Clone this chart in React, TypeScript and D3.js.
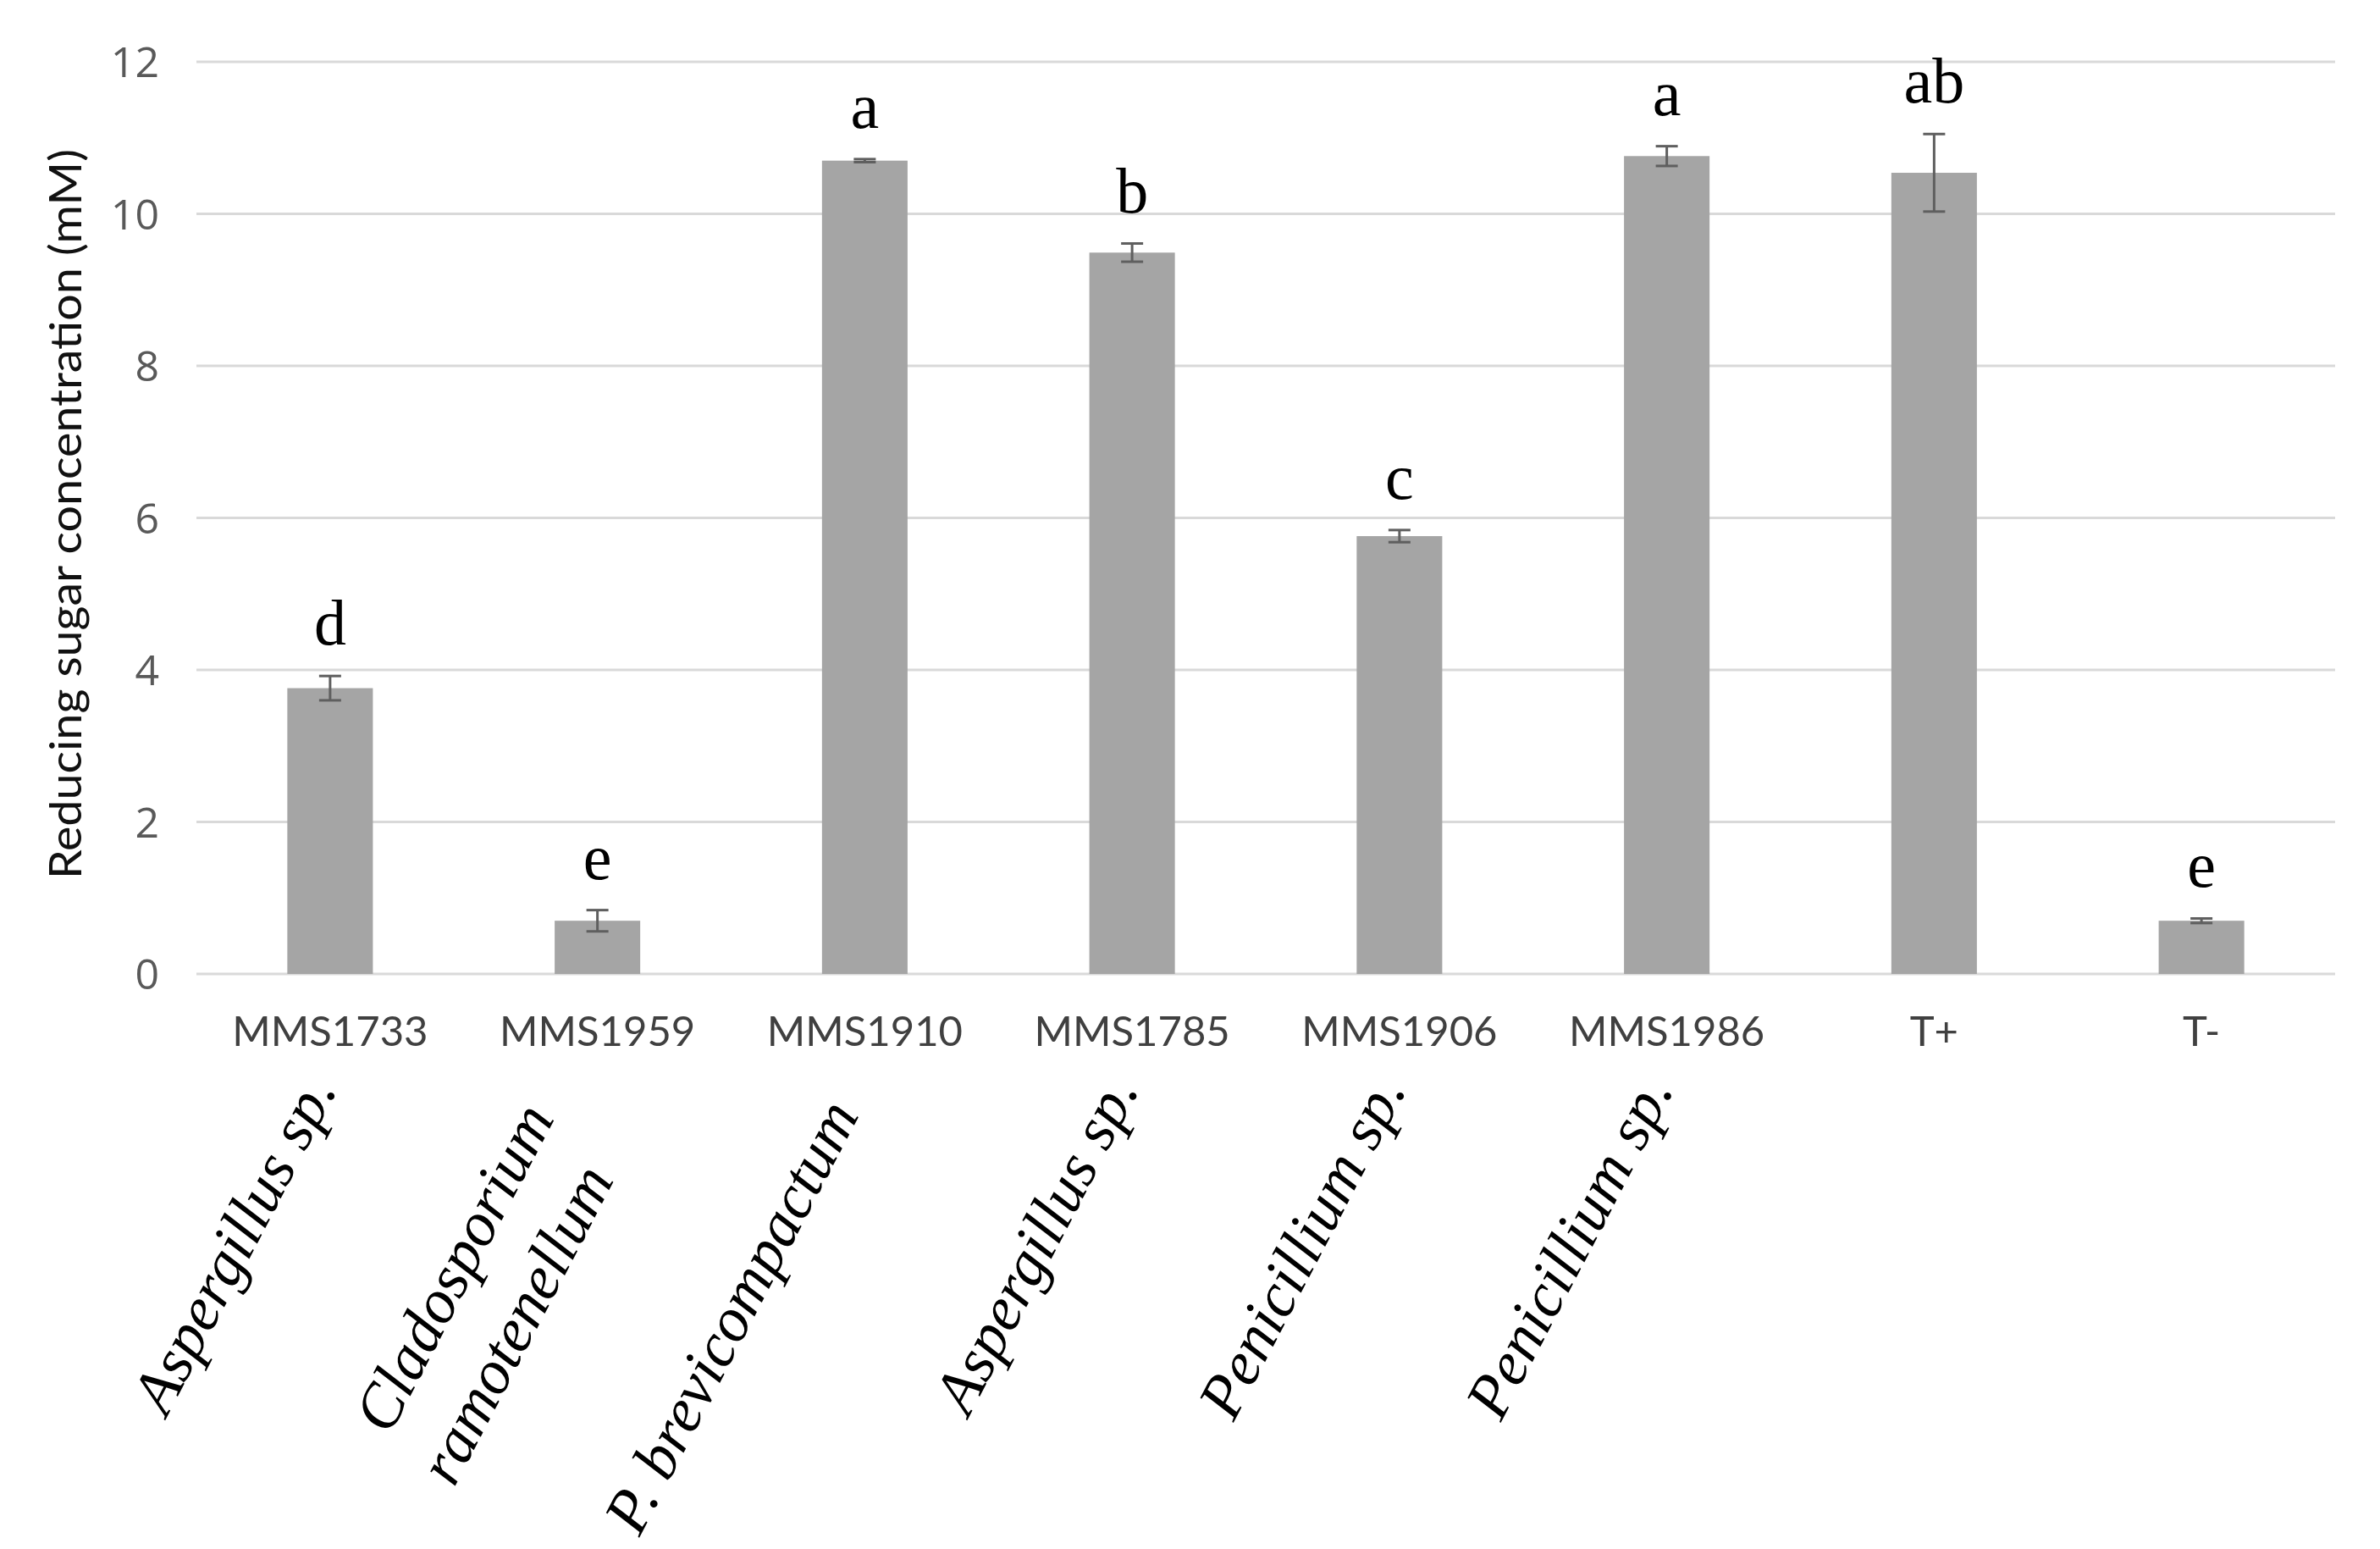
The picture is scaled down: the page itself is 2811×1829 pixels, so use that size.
import React from "react";
import * as d3 from "d3";

const categories = ["MMS1733", "MMS1959", "MMS1910", "MMS1785", "MMS1906", "MMS1986", "T+", "T-"];
const values = [3.76, 0.70, 10.70, 9.49, 5.76, 10.76, 10.54, 0.70];
const errors = [0.16, 0.14, 0.02, 0.12, 0.08, 0.13, 0.51, 0.03];
const letters = ["d", "e", "a", "b", "c", "a", "ab", "e"];
const species: string[][] = [
  ["Aspergillus sp."],
  ["Cladosporium", "ramotenellum"],
  ["P. brevicompactum"],
  ["Aspergillus sp."],
  ["Penicillium sp."],
  ["Penicillium sp."],
  [],
  [],
];
const yTicks = [0, 2, 4, 6, 8, 10, 12];
const yTitle = "Reducing sugar concentration (mM)";

// layout (not data)
const W = 2811;
const H = 1829;
const plot = { left: 232, right: 2758, top: 73, bottom: 1150 };
const speciesShift = [
  [9, 0],
  [-50, 34],
  [-6, 30],
  [9, 0],
  [9, 0],
  [9, 0],
  [0, 0],
  [0, 0],
];
const speciesBaseY = 1286;

export default function App() {
  const x = d3
    .scaleBand<string>()
    .domain(categories)
    .range([plot.left, plot.right])
    .paddingInner(0.68)
    .paddingOuter(0.34);
  const y = d3.scaleLinear().domain([0, 12]).range([plot.bottom, plot.top]);
  const bw = x.bandwidth();
  const cx = (c: string) => (x(c) as number) + bw / 2;
  const band = x.step();
  const centerOf = (i: number) => plot.left + band * (i + 0.5);

  return (
    <svg
      width={W}
      height={H}
      style={{ position: "absolute", left: 0, top: 0, background: "#fff" }}
    >
      <rect x={0} y={0} width={W} height={H} fill="#ffffff" />
      {/* gridlines */}
      {yTicks.map((t) => (
        <line
          key={"g" + t}
          x1={plot.left}
          x2={plot.right}
          y1={y(t)}
          y2={y(t)}
          stroke="#d9d9d9"
          strokeWidth={3}
        />
      ))}
      {/* y tick labels */}
      {yTicks.map((t) => (
        <text
          key={"t" + t}
          x={188}
          y={y(t)}
          dy="0.36em"
          textAnchor="end"
          fontFamily="'Open Sans', sans-serif"
          fontSize={50}
          fill="#595959"
        >
          {t}
        </text>
      ))}
      {/* y title */}
      <text
        transform={`translate(96, 607) rotate(-90)`}
        textAnchor="middle"
        fontFamily="Lato, 'Open Sans', sans-serif"
        fontSize={52}
        fill="#111"
        textLength={862}
        lengthAdjust="spacingAndGlyphs"
      >
        {yTitle}
      </text>
      {/* bars */}
      {categories.map((c, i) => (
        <rect
          key={"b" + c}
          x={x(c)}
          y={y(values[i])}
          width={bw}
          height={y(0) - y(values[i])}
          fill="#a5a5a5"
        />
      ))}
      {/* error bars */}
      {categories.map((c, i) => {
        const xc = cx(c);
        const hi = y(values[i] + errors[i]);
        const lo = y(values[i] - errors[i]);
        return (
          <g key={"e" + c} stroke="#5f5f5f" strokeWidth={3}>
            <line x1={xc} x2={xc} y1={hi} y2={lo} />
            <line x1={xc - 13} x2={xc + 13} y1={hi} y2={hi} />
            <line x1={xc - 13} x2={xc + 13} y1={lo} y2={lo} />
          </g>
        );
      })}
      {/* significance letters */}
      {categories.map((c, i) => (
        <text
          key={"l" + c}
          x={cx(c)}
          y={y(values[i] + errors[i]) - 37}
          textAnchor="middle"
          fontFamily="'Liberation Serif', 'Times New Roman', serif"
          fontSize={76}
          fill="#000"
        >
          {letters[i]}
        </text>
      ))}
      {/* category labels */}
      {categories.map((c) => (
        <text
          key={"c" + c}
          x={cx(c)}
          y={1235}
          textAnchor="middle"
          fontFamily="Lato, 'Open Sans', sans-serif"
          fontSize={49}
          fill="#404040"
        >
          {c}
        </text>
      ))}
      {/* species labels */}
      {species.map((lines, i) =>
        lines.length ? (
          <g
            key={"s" + i}
            transform={`translate(${centerOf(i) + speciesShift[i][0]}, ${speciesBaseY + speciesShift[i][1]}) rotate(-62.5)`}
          >
            {lines.map((ln, j) => (
              <text
                key={j}
                x={-32 * j}
                y={96 * j}
                textAnchor="end"
                fontFamily="'Liberation Serif', 'Times New Roman', serif"
                fontStyle="italic"
                fontSize={74}
                fill="#000"
              >
                {ln}
              </text>
            ))}
          </g>
        ) : null
      )}
    </svg>
  );
}
